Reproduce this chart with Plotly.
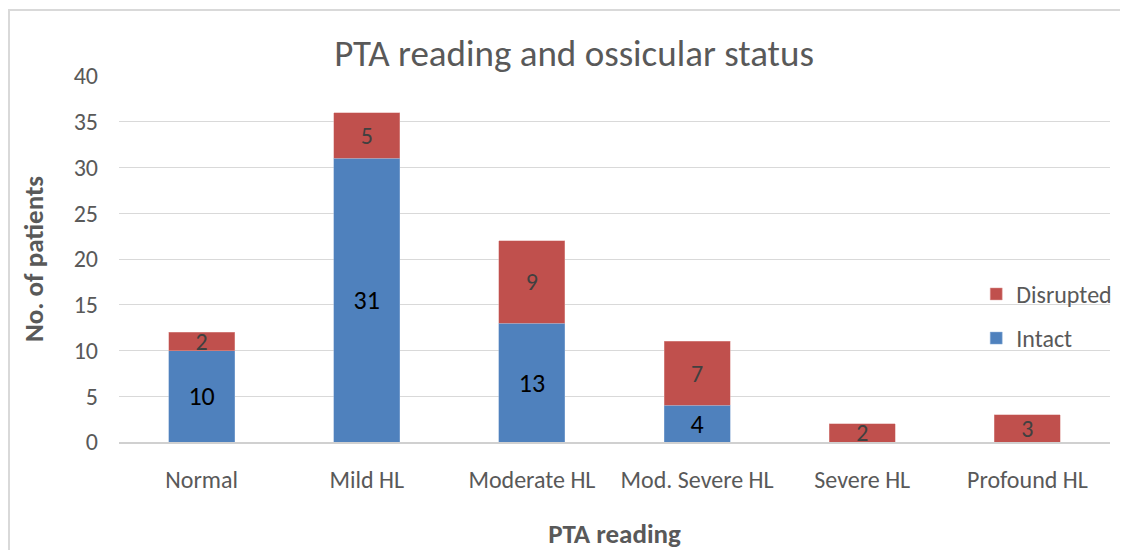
import plotly.graph_objects as go

categories = ["Normal", "Mild HL", "Moderate HL", "Mod. Severe HL", "Severe HL", "Profound HL"]
intact = [10, 31, 13, 4, 0, 0]
disrupted = [2, 5, 9, 7, 2, 3]

FONT = "Carlito, Calibri, 'Liberation Sans', sans-serif"
GRAY = "#595959"

fig = go.Figure()
fig.add_trace(go.Bar(
    x=categories, y=intact, name="Intact", legendgroup="a", legendrank=2,
    marker=dict(color="#4F81BD", line=dict(color="#8FB0D8", width=0.5)),
    text=[str(v) if v else "" for v in intact], textposition="inside",
    insidetextanchor="middle", constraintext="none", textangle=0,
    textfont=dict(family=FONT, size=26, color="#000000"),
    width=0.4,
))
fig.add_trace(go.Bar(
    x=categories, y=disrupted, name="Disrupted", legendgroup="b", legendrank=1,
    marker=dict(color="#C0504D", line=dict(color="#E0A09E", width=0.5)),
    text=[str(v) if v else "" for v in disrupted], textposition="inside",
    insidetextanchor="middle", constraintext="none", textangle=0,
    textfont=dict(family=FONT, size=24, color="#404040"),
    width=0.4, cliponaxis=False,
))

fig.update_layout(
    barmode="stack",
    width=1128, height=550,
    margin=dict(l=111, r=26, t=68, b=116),
    paper_bgcolor="white", plot_bgcolor="white",
    font=dict(family=FONT, color=GRAY, size=24),
    title=dict(text="PTA reading and ossicular status", x=566/1128, xanchor="center",
               y=1 - 45/550, yanchor="middle", font=dict(size=37, color=GRAY)),
    legend=dict(x=0.865, xanchor="left", y=0.465, yanchor="top",
                traceorder="grouped", tracegroupgap=10,
                bgcolor="rgba(0,0,0,0)", font=dict(size=24, color=GRAY),
                itemwidth=30),
    showlegend=True,
    shapes=[dict(type="rect", xref="paper", yref="paper",
                 x0=-110/991, x1=1.2, y0=-0.5, y1=432/366,
                 line=dict(color="#D9D9D9", width=2), fillcolor="rgba(0,0,0,0)", layer="below")],
)
fig.update_yaxes(range=[0, 40], dtick=5, showgrid=True, gridcolor="#D9D9D9", gridwidth=1,
                 zeroline=False, showline=False, ticks="", ticklen=0,
                 ticklabelstandoff=20,
                 tickfont=dict(size=24, color=GRAY),
                 title=dict(text="<b>No. of patients</b>", font=dict(size=27, color=GRAY), standoff=22))
fig.update_xaxes(showline=True, linecolor="#D0D0D0", linewidth=2, ticks="",
                 ticklabelstandoff=15,
                 tickfont=dict(size=24, color=GRAY),
                 title=dict(text="<b>PTA reading</b>", font=dict(size=27, color=GRAY), standoff=31))

fig.write_html("out.html")
